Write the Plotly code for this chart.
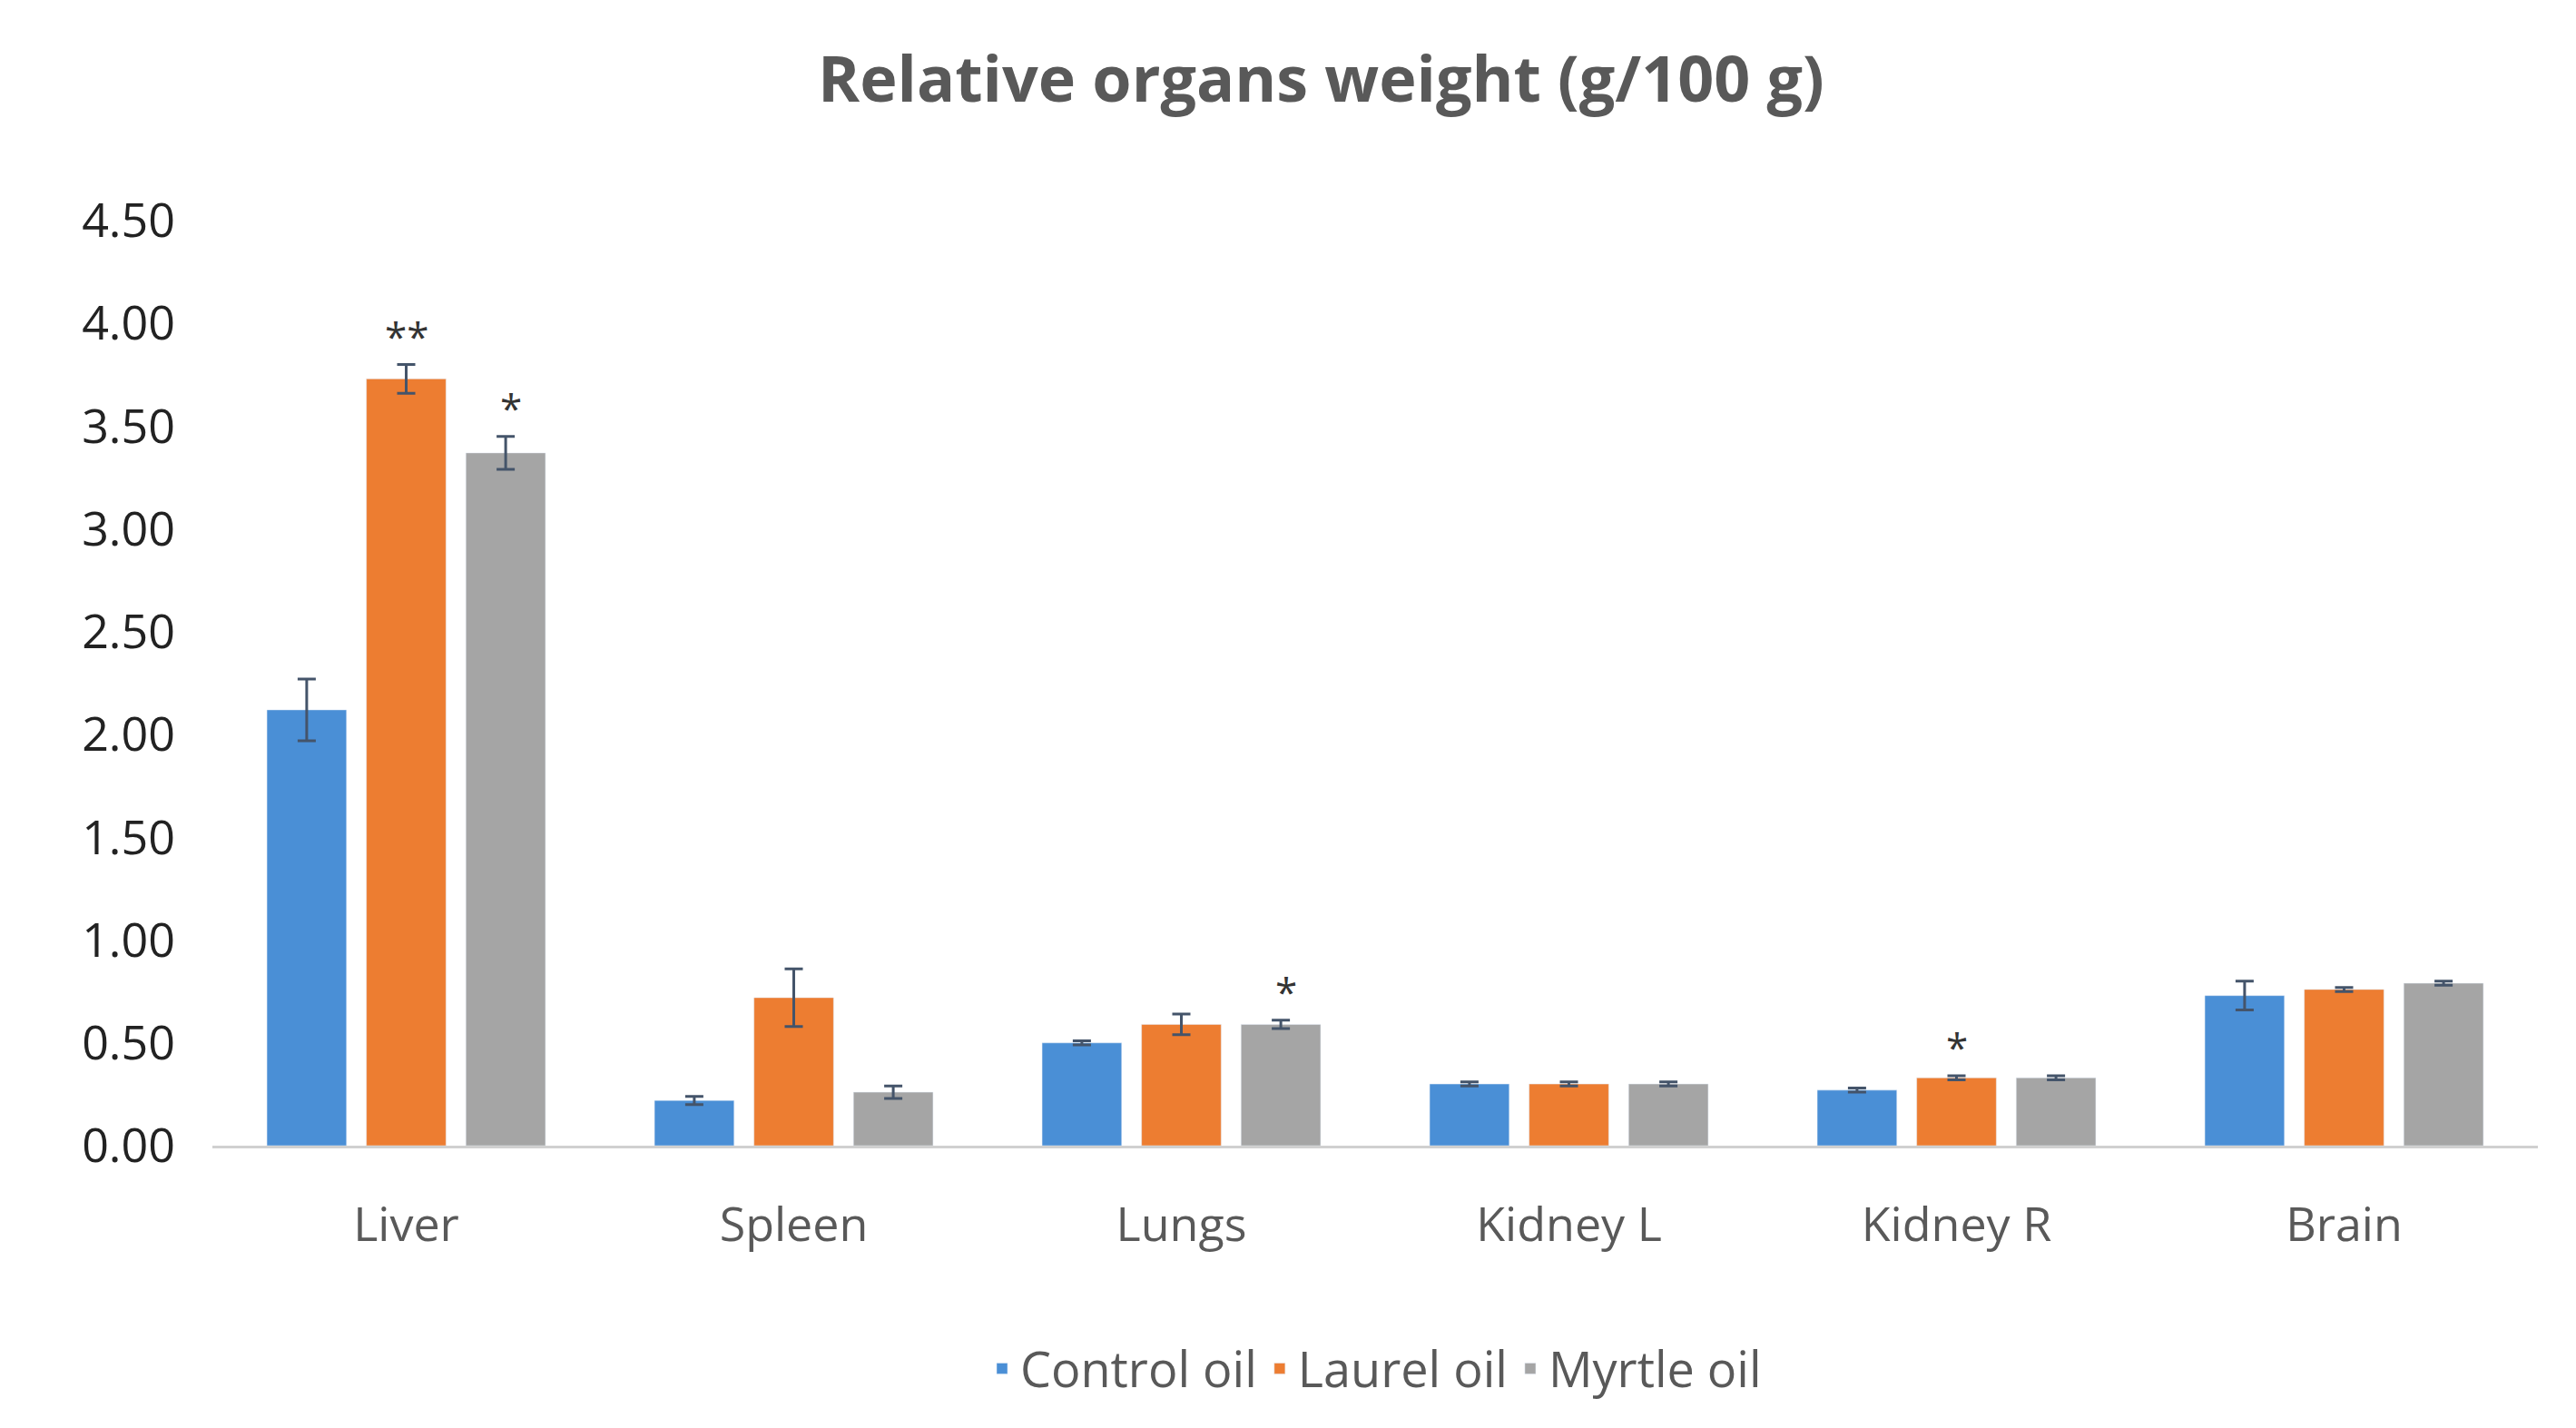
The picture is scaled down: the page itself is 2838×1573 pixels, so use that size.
import plotly.graph_objects as go

organs = ["Liver", "Spleen", "Lungs", "Kidney L", "Kidney R", "Brain"]
control = [2.12, 0.22, 0.50, 0.30, 0.27, 0.73]
control_err = [0.15, 0.02, 0.01, 0.01, 0.01, 0.07]
laurel = [3.73, 0.72, 0.59, 0.30, 0.33, 0.76]
laurel_err = [0.07, 0.14, 0.05, 0.01, 0.01, 0.01]
myrtle = [3.37, 0.26, 0.59, 0.30, 0.33, 0.79]
myrtle_err = [0.08, 0.03, 0.02, 0.01, 0.01, 0.01]
stars_laurel = ["**", "", "", "", "*", ""]
stars_myrtle = ["*", "", "*", "", "", ""]

fig = go.Figure()
series = [("Control oil", control, control_err, "#4a8fd6"),
          ("Laurel oil", laurel, laurel_err, "#ed7d31"),
          ("Myrtle oil", myrtle, myrtle_err, "#a5a5a5")]
for name, v, e, c in series:
    fig.add_bar(x=organs, y=v, name=name, marker_color=c,
                error_y=dict(type="data", array=e, color="#44546a", thickness=3, width=10))

for i, org in enumerate(organs):
    for stars, vals, errs, off in [(stars_laurel, laurel, laurel_err, 0), (stars_myrtle, myrtle, myrtle_err, 0.27)]:
        if stars[i]:
            fig.add_annotation(x=i + off, y=vals[i] + errs[i], text=stars[i], showarrow=False,
                               yshift=32, font=dict(size=44, color="#333"), xref="x", yref="y")

fig.update_layout(
    width=2838, height=1573,
    paper_bgcolor="white", plot_bgcolor="white",
    title=dict(text="<b>Relative organs weight (g/100 g)</b>", x=0.51, y=0.965, xanchor="center",
               font=dict(size=70, color="#595959", family="Open Sans")),
    font=dict(family="Open Sans", size=52, color="#404040"),
    margin=dict(l=226, r=50, t=235, b=319),
    barmode="group", bargap=0.23, bargroupgap=0.2,
    legend=dict(orientation="h", x=0.5, xanchor="center", y=-0.2, yanchor="top",
                font=dict(size=54, color="#595959")),
    showlegend=True,
)
fig.update_xaxes(showline=True, linecolor="#d0d0d0", linewidth=3, ticks="", tickfont=dict(size=52, color="#595959"))
fig.update_yaxes(range=[0, 4.5], dtick=0.5, tickformat=".2f", showgrid=False, zeroline=False,
                 tickfont=dict(size=52, color="#222"), ticklabelstandoff=40)
fig.update_xaxes(ticklabelstandoff=40)
fig.write_html("out.html")
